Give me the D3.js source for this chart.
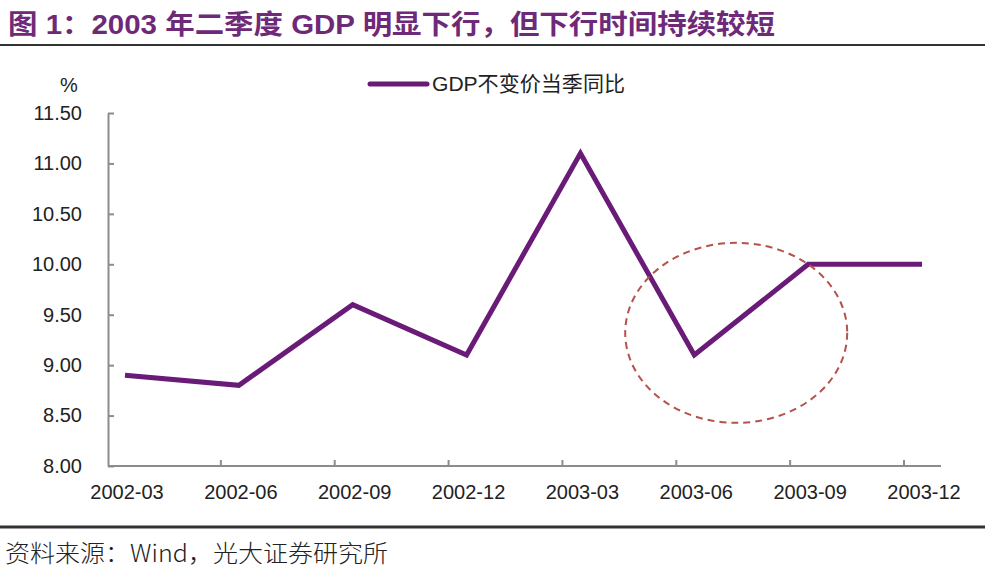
<!DOCTYPE html>
<html>
<head>
<meta charset="utf-8">
<script src="https://cdn.jsdelivr.net/npm/d3@7/dist/d3.min.js"></script>
<style>
  html, body { margin: 0; padding: 0; background: #ffffff; }
  svg { display: block; }
</style>
</head>
<body>
<svg id="chart" width="985" height="571"></svg>
<script>
const categories = ["2002-03", "2002-06", "2002-09", "2002-12", "2003-03", "2003-06", "2003-09", "2003-12"];
const gdpValues = [8.9, 8.8, 9.6, 9.1, 11.1, 9.1, 10.0, 10.0];
const yTicks = [8.0, 8.5, 9.0, 9.5, 10.0, 10.5, 11.0, 11.5];
const seriesName = "GDP不变价当季同比";
const titleText = "图 1：2003 年二季度 GDP 明显下行，但下行时间持续较短";
const sourceText = "资料来源：Wind，光大证券研究所";
const highlightRange = ["2003-06", "2003-09"];
const highlightCenterValue = 9.32;

const svg = d3.select("#chart");
const W = 985, H = 571;
const purple = "#6a1b78";
const axisColor = "#8c8c8c";
const latin = "'Liberation Sans', Arial, sans-serif";
const cjk = "'Liberation Sans', 'Noto Sans CJK SC', sans-serif";

// Title
svg.append("text")
  .attr("x", 8).attr("y", 34)
  .attr("font-family", "'Liberation Sans', 'Noto Sans CJK SC', sans-serif")
  .attr("font-weight", "bold")
  .attr("font-size", 27)
  .attr("fill", "#6e2a78")
  .attr("textLength", 767).attr("lengthAdjust", "spacingAndGlyphs")
  .text(titleText);

svg.append("line").attr("x1", 0).attr("x2", W).attr("y1", 45).attr("y2", 45)
  .attr("stroke", "#333").attr("stroke-width", 2);

// Scales
const plotLeft = 108, plotRight = 941, plotTop = 113, plotBottom = 466;
const y = d3.scaleLinear().domain([8, 11.5]).range([plotBottom, plotTop]);
const x = d3.scalePoint().domain(categories).range([125, 922]);
const tickOffset = -18;

// Y axis
const yAxis = d3.axisLeft(y).tickValues(yTicks).tickFormat(d3.format(".2f")).tickSizeInner(-6).tickSizeOuter(0).tickPadding(26);
const gy = svg.append("g").attr("transform", `translate(${plotLeft},0)`).call(yAxis);
gy.select(".domain").attr("stroke", axisColor).attr("stroke-width", 2);
gy.selectAll(".tick line").attr("stroke", axisColor).attr("stroke-width", 2);
gy.selectAll(".tick text").attr("font-family", latin).attr("font-size", 20).attr("fill", "#222");

// X axis
const gx = svg.append("g").attr("transform", `translate(0,${plotBottom})`);
gx.append("line").attr("x1", plotLeft).attr("x2", plotRight).attr("y1", 0).attr("y2", 0)
  .attr("stroke", axisColor).attr("stroke-width", 2);
gx.selectAll("line.xt").data(categories.slice(1)).enter().append("line")
  .attr("class", "xt")
  .attr("x1", d => x(d) + tickOffset).attr("x2", d => x(d) + tickOffset)
  .attr("y1", 0).attr("y2", -6)
  .attr("stroke", axisColor).attr("stroke-width", 2);
gx.selectAll("text.xl").data(categories).enter().append("text")
  .attr("class", "xl")
  .attr("x", d => x(d) + 2).attr("y", 33)
  .attr("text-anchor", "middle")
  .attr("font-family", latin).attr("font-size", 20).attr("fill", "#222")
  .text(d => d);

// Unit
svg.append("text").attr("x", 69).attr("y", 92).attr("text-anchor", "middle")
  .attr("font-family", latin).attr("font-size", 20).attr("fill", "#222").text("%");

// Line
const line = d3.line().x((d, i) => x(categories[i])).y(d => y(d));
svg.append("path").datum(gdpValues)
  .attr("d", line).attr("fill", "none")
  .attr("stroke", purple).attr("stroke-width", 5)
  .attr("stroke-linejoin", "miter");

// Highlight ellipse around the dip
const cx = (x(highlightRange[0]) + x(highlightRange[1])) / 2 - 15;
const cy = y(highlightCenterValue);
svg.append("ellipse")
  .attr("cx", cx).attr("cy", cy).attr("rx", 111).attr("ry", 90)
  .attr("fill", "none").attr("stroke", "#b5524c").attr("stroke-width", 2)
  .attr("stroke-dasharray", "7,5");

// Legend
svg.append("line").attr("x1", 370).attr("x2", 427).attr("y1", 84).attr("y2", 84)
  .attr("stroke", purple).attr("stroke-width", 5).attr("stroke-linecap", "round");
svg.append("text").attr("x", 432).attr("y", 91)
  .attr("font-family", cjk).attr("font-size", 21).attr("fill", "#222")
  .attr("textLength", 193).attr("lengthAdjust", "spacingAndGlyphs")
  .text(seriesName);

// Bottom rule and source
svg.append("line").attr("x1", 0).attr("x2", W).attr("y1", 527).attr("y2", 527)
  .attr("stroke", "#333").attr("stroke-width", 3);
svg.append("text").attr("x", 5).attr("y", 562)
  .attr("font-family", "'Noto Sans CJK SC', sans-serif").attr("font-weight", 300)
  .attr("font-size", 24).attr("fill", "#222")
  .attr("textLength", 383).attr("lengthAdjust", "spacingAndGlyphs")
  .text(sourceText);
</script>
</body>
</html>
